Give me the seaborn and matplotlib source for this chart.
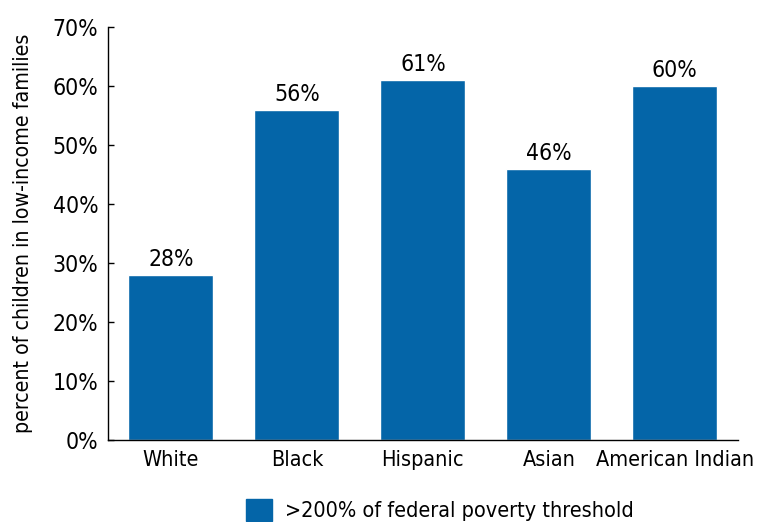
import matplotlib
matplotlib.use("Agg")
import matplotlib.pyplot as plt
import seaborn as sns
import pandas as pd
from matplotlib.patches import Patch

groups = ["White", "Black", "Hispanic", "Asian", "American Indian"]
values = [28, 56, 61, 46, 60]
ticks = [0, 10, 20, 30, 40, 50, 60, 70]
legend_label = ">200% of federal poverty threshold"
bar_color = "#0465a8"

sns.set_style("white")
plt.rcParams['font.family'] = ['DejaVu Sans']
plt.rcParams['font.stretch'] = 'condensed'
plt.rcParams['text.color'] = 'black'
plt.rcParams['axes.labelcolor'] = 'black'
plt.rcParams['xtick.color'] = 'black'
plt.rcParams['ytick.color'] = 'black'

df = pd.DataFrame({"group": groups, "value": values})

fig = plt.figure(figsize=(7.71, 5.22), dpi=100)
ax = fig.add_axes([0.140, 0.157, 0.817, 0.791])
sns.barplot(data=df, x="group", y="value", color=bar_color, width=0.675,
            saturation=1, ax=ax)

for i, v in enumerate(values):
    ax.text(i, v + 0.7, f"{v}%", ha="center", va="bottom", fontsize=16.5)

ax.set_ylim(0, 70)
ax.set_xlim(-0.5, 4.5)
ax.set_yticks(ticks)
ax.set_yticklabels([f"{t}%" for t in ticks], fontsize=16.5)
ax.tick_params(axis="x", labelsize=15.5, length=0, pad=7)
ax.tick_params(axis="y", length=4.5, width=1, direction="in", left=True, pad=7)
ax.set_xlabel("")
ax.set_ylabel("percent of children in low-income families", fontsize=15.3, labelpad=14)
for s in ["top", "right"]:
    ax.spines[s].set_visible(False)
for s in ["left", "bottom"]:
    ax.spines[s].set_color("black")
    ax.spines[s].set_linewidth(1)

fig.legend(handles=[Patch(color=bar_color, label=legend_label)],
           loc="lower center", bbox_to_anchor=(0.571, -0.036), frameon=False,
           fontsize=15.5, handlelength=1.2, handleheight=1.2, handletextpad=0.6)

fig.savefig("out.png", dpi=100)
